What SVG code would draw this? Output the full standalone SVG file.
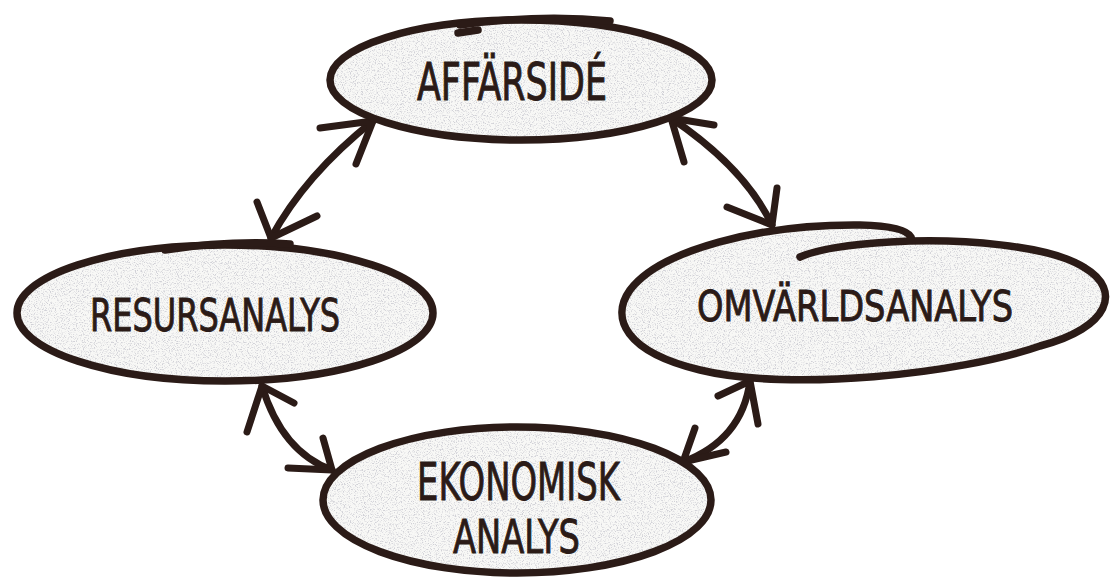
<svg xmlns="http://www.w3.org/2000/svg" width="1110" height="578" viewBox="0 0 1110 578">
  <style>
    .bubble { fill: #f8f8f6; }
    .rim { fill: none; stroke: #2b1b17; stroke-width: 7.5; stroke-linecap: round; stroke-linejoin: round; }
    .arrow { fill: none; stroke: #2b1b17; stroke-width: 7; stroke-linecap: round; stroke-linejoin: round; }
    .label { font-family: "Liberation Sans Narrow", "DejaVu Sans Condensed", "Liberation Sans", sans-serif; fill: #2b1b17; stroke: #2b1b17; stroke-width: 0.9; text-anchor: start; }
  </style>
  <defs>
    <!-- speckled grey fill for the bubbles -->
    <filter id="grain" x="-2%" y="-2%" width="104%" height="104%">
      <feTurbulence type="fractalNoise" baseFrequency="0.85" numOctaves="2" seed="7" result="noise"/>
      <feColorMatrix in="noise" type="matrix" values="0 0 0 0 0.64  0 0 0 0 0.64  0 0 0 0 0.68  4.4 0 0 0 -2.2" result="specks"/>
      <feComposite in="specks" in2="SourceGraphic" operator="in" result="dots"/>
      <feMerge>
        <feMergeNode in="SourceGraphic"/>
        <feMergeNode in="dots"/>
      </feMerge>
    </filter>
  </defs>

  <rect width="1110" height="578" fill="#ffffff"/>

  <!-- connectors: double-headed arrows -->
  <g id="connectors">
    <g id="affarside-resursanalys">
      <path class="arrow" d="M373,121 Q305,175 271,238"/>
      <path class="arrow" d="M320,128 L373,121 L356,164"/>
      <path class="arrow" d="M257,202 L271,238 L317,216"/>
    </g>
    <g id="affarside-omvarldsanalys">
      <path class="arrow" d="M671,118 Q745,168 772,225"/>
      <path class="arrow" d="M714,125 L671,118 L684,162"/>
      <path class="arrow" d="M727,207 L772,225 L777,188"/>
    </g>
    <g id="resursanalys-ekonomisk">
      <path class="arrow" d="M262,386 Q282,452 332,470"/>
      <path class="arrow" d="M294,403 L262,386 L247,432"/>
      <path class="arrow" d="M323,438 L332,470 L288,468"/>
    </g>
    <g id="omvarldsanalys-ekonomisk">
      <path class="arrow" d="M750,381 Q742,440 683,462"/>
      <path class="arrow" d="M718,396 L750,381 L758,424"/>
      <path class="arrow" d="M695,428 L683,462 L726,452"/>
    </g>
  </g>

  <!-- AFFÄRSIDÉ -->
  <g id="affarside">
    <ellipse class="bubble" cx="521" cy="80" rx="191" ry="60" filter="url(#grain)"/>
    <ellipse class="rim" cx="521" cy="80" rx="191" ry="60"/>
    <path class="rim" d="M460,25 Q540,14 610,21" stroke-width="11"/>
    <path class="rim" d="M458,33 L478,30" stroke-width="5"/>
    <text class="label" x="417" y="100" font-size="51" textLength="190" lengthAdjust="spacingAndGlyphs">AFFÄRSIDÉ</text>
  </g>

  <!-- RESURSANALYS -->
  <g id="resursanalys">
    <ellipse class="bubble" cx="225" cy="313" rx="208" ry="68" filter="url(#grain)"/>
    <ellipse class="rim" cx="225" cy="313" rx="208" ry="68"/>
    <path class="rim" d="M165,250 Q230,240 290,244" stroke-width="9"/>
    <text class="label" x="90" y="331" font-size="45" textLength="250" lengthAdjust="spacingAndGlyphs">RESURSANALYS</text>
  </g>

  <!-- OMVÄRLDSANALYS: one looping hand-drawn outline -->
  <g id="omvarldsanalys">
    <path class="bubble" filter="url(#grain)" d="M911,237 Q905,226 860,225 C760,224 660,250 630,290 C610,318 625,352 700,370 C790,392 960,374 1040,346 C1110,328 1122,290 1085,268 C1050,245 960,238 890,242 C850,244 815,250 800,257 Z"/>
    <path class="rim" d="M911,237 Q905,226 860,225 C760,224 660,250 630,290 C610,318 625,352 700,370 C790,392 960,374 1040,346 C1110,328 1122,290 1085,268 C1050,245 960,238 890,242 C850,244 815,250 800,257"/>
    <text class="label" x="697" y="321" font-size="43" textLength="316" lengthAdjust="spacingAndGlyphs">OMVÄRLDSANALYS</text>
  </g>

  <!-- EKONOMISK ANALYS -->
  <g id="ekonomisk-analys">
    <ellipse class="bubble" cx="517" cy="500" rx="194" ry="73" filter="url(#grain)"/>
    <ellipse class="rim" cx="517" cy="500" rx="194" ry="73"/>
    <text class="label" x="417" y="500" font-size="51" textLength="203" lengthAdjust="spacingAndGlyphs">EKONOMISK</text>
    <text class="label" x="453" y="553" font-size="46" textLength="127" lengthAdjust="spacingAndGlyphs">ANALYS</text>
  </g>
</svg>
